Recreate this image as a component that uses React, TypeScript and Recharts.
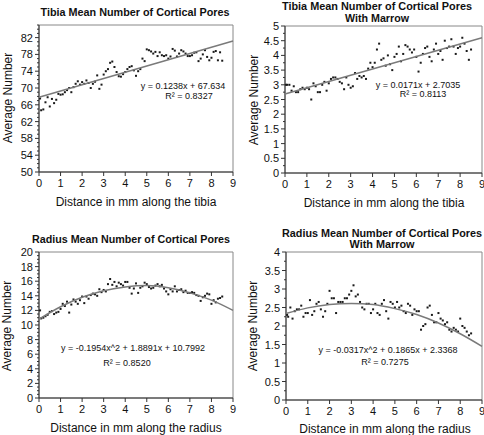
import React from 'react';
import { ScatterChart, Scatter, XAxis, YAxis, ReferenceArea } from 'recharts';

// distance along bone (mm) for each sample
const distances = [
  0.05, 0.1, 0.2, 0.3, 0.4, 0.5, 0.6, 0.7, 0.8, 0.9,
  1.0, 1.1, 1.2, 1.3, 1.4, 1.5, 1.6, 1.7, 1.8, 1.9,
  2.0, 2.1, 2.2, 2.3, 2.4, 2.5, 2.6, 2.7, 2.8, 2.9,
  3.0, 3.1, 3.2, 3.3, 3.4, 3.5, 3.6, 3.7, 3.8, 3.9,
  4.0, 4.1, 4.2, 4.3, 4.4, 4.5, 4.6, 4.7, 4.8, 4.9,
  5.0, 5.1, 5.2, 5.3, 5.4, 5.5, 5.6, 5.7, 5.8, 5.9,
  6.0, 6.1, 6.2, 6.3, 6.4, 6.5, 6.6, 6.7, 6.8, 6.9,
  7.0, 7.1, 7.2, 7.3, 7.4, 7.5, 7.6, 7.7, 7.8, 7.9,
  8.0, 8.1, 8.2, 8.3, 8.4, 8.5,
];

const tibiaPores = [
  67.5, 64.7, 64.9, 66.6, 67.8, 65.6, 67.4, 66.4, 67.2, 68.6,
  68.4, 68.5, 69.0, 69.5, 70.0, 69.0, 70.2, 71.0, 71.6, 70.8,
  71.4, 71.0, 71.8, 71.2, 70.0, 71.0, 71.5, 73.0, 69.8, 70.8,
  73.2, 74.0, 74.5, 76.0, 76.3, 75.0, 73.8, 72.8, 72.7, 73.3,
  73.8, 74.5, 75.0, 75.2, 74.2, 72.9, 74.0, 74.5, 77.0, 76.4,
  79.2, 79.0, 78.7, 78.2, 78.6, 77.6, 78.5, 77.8, 77.6, 77.8,
  77.0, 77.5, 79.3, 78.9, 77.5, 78.2, 79.0, 78.7, 78.2, 77.6,
  77.6, 77.8, 78.4, 78.5, 76.4, 77.0, 78.0, 79.0, 77.4, 76.6,
  77.2, 78.6, 78.8, 76.6, 78.5, 76.5,
];

const tibiaMarrow = [
  3.0, 3.0, 3.0, 2.8, 2.95, 2.75, 2.75, 2.85, 2.9, 2.85,
  2.9, 2.85, 2.5, 3.05, 2.95, 2.75, 2.75, 3.0, 3.1, 2.8,
  3.05, 3.2, 3.25, 3.25, 3.2, 3.1, 3.05, 2.85, 3.25, 3.0,
  2.9, 2.95, 3.4, 3.2, 3.3, 3.25, 3.3, 3.2, 3.55, 3.75,
  3.6, 3.75, 4.2, 4.4, 3.85, 3.9, 3.65, 4.0, 3.7, 3.5,
  3.95, 4.05, 4.3, 3.8, 4.05, 4.35, 4.3, 4.2, 4.1, 4.2,
  3.95, 3.45, 3.75, 4.05, 4.25, 4.3, 3.95, 3.8, 4.2, 4.4,
  4.05, 4.15, 3.85, 4.5, 4.25, 4.3, 4.55, 4.3, 4.05, 4.25,
  4.3, 4.6, 4.4, 4.15, 3.85, 4.2,
];

const radiusPores = [
  12.0, 10.9, 11.0, 11.2, 11.4, 11.8, 11.9, 11.5, 11.7, 11.8,
  12.2, 12.9, 12.6, 13.2, 11.7, 12.8, 13.5, 13.2, 12.9, 13.4,
  13.9, 13.0, 13.9, 13.6, 14.1, 14.3, 14.2, 14.0, 14.9, 14.5,
  14.8, 14.6, 15.6, 16.3, 15.5, 15.9, 15.3, 15.8, 15.6, 15.4,
  15.9, 15.9, 15.1, 14.3, 15.0, 15.7, 14.4, 15.1, 15.3, 15.8,
  15.6, 15.2, 15.0, 15.1, 15.4, 15.6, 15.3, 15.5, 15.0, 14.6,
  14.2, 14.9, 14.6, 15.3, 14.6, 14.8, 14.9, 14.5, 14.7, 14.4,
  14.4, 14.5, 14.4, 14.1, 14.0, 13.3, 13.8, 14.0, 14.3, 14.2,
  12.9, 13.4, 13.1, 13.6, 13.7, 13.9,
];

const radiusMarrow = [
  2.3, 2.25, 2.5, 2.2, 2.4, 2.45, 2.45, 2.55, 2.25, 2.35,
  2.35, 2.7, 2.3, 2.4, 2.6, 2.65, 2.45, 2.25, 2.4, 2.6,
  2.95, 2.75, 2.75, 2.35, 2.65, 2.65, 2.65, 2.75, 2.75, 2.85,
  2.95, 3.1, 2.8, 2.85, 2.65, 2.5, 2.45, 2.6, 2.6, 2.35,
  2.45, 2.6, 2.35, 2.3, 2.6, 2.7, 2.4, 2.2, 2.65, 2.6,
  2.5, 2.65, 2.5, 2.55, 2.4, 2.35, 2.6, 2.55, 2.3, 2.45,
  2.4, 2.4, 1.9, 2.0, 2.05, 2.5, 2.55, 2.3, 2.1, 2.1,
  2.35, 2.2, 2.15, 2.05, 2.1, 1.9, 1.85, 1.95, 1.9, 1.85,
  2.2, 2.0, 1.95, 1.85, 1.75, 1.8,
];

// trendlines
const lineX = [0, 9];
const curveX = [0, 1, 2, 3, 4, 5, 6, 7, 8, 9];
const tibiaTrend = [67.8, 81.2];
const tibiaMarrowTrend = [2.69, 4.6];
const radiusTrend = [10.8, 12.5, 13.8, 14.7, 15.2, 15.4, 15.1, 14.4, 13.4, 12.0];
const radiusMarrowTrend = [2.34, 2.49, 2.58, 2.61, 2.58, 2.47, 2.31, 2.08, 1.79, 1.45];

const xTicks = [0, 1, 2, 3, 4, 5, 6, 7, 8, 9];
const tibiaTicks = [50, 54, 58, 62, 66, 70, 74, 78, 82];
const tibiaMarrowTicks = [0, 0.5, 1, 1.5, 2, 2.5, 3, 3.5, 4, 4.5, 5];
const radiusTicks = [0, 2, 4, 6, 8, 10, 12, 14, 16, 18, 20];
const radiusMarrowTicks = [0, 0.5, 1, 1.5, 2, 2.5, 3, 3.5, 4];

type Pt = { x: number; y: number };
const pair = (xs: number[], ys: number[]): Pt[] => xs.map((x, i) => ({ x, y: ys[i] }));

const FONT = "'Liberation Sans', Arial, sans-serif";
const AXIS = '#333';

const minorTicks = (lo: number, hi: number, step: number) => {
  const out: number[] = [];
  for (let i = 0; lo + i * step <= hi + 1e-9; i++) out.push(+(lo + i * step).toFixed(4));
  return out;
};

interface PanelProps {
  left: number;
  top: number;
  width: number;
  height: number;
  plot: { l: number; r: number; t: number; b: number };
  points: Pt[];
  trend: Pt[];
  curved?: boolean;
  yDomain: [number, number];
  major: number[];
  minorStep: number;
  title: string[];
  titleWidths: number[];
  titlePos: [number, number];
  titleGap?: number;
  yLabelPos: [number, number];
  xLabel: string;
  xLabelPos: [number, number];
  eq: string;
  eqPos: [number, number];
  r2: string;
  r2Pos: [number, number];
}

const Panel: React.FC<PanelProps> = (p) => {
  const ticks = minorTicks(p.yDomain[0], p.yDomain[1], p.minorStep);
  const isMajor = (v: number) => p.major.some((m) => Math.abs(m - v) < 1e-6);
  const YTick = ({ x, y, payload }: any) => {
    const big = isMajor(payload.value);
    return (
      <g>
        <line x1={x - (big ? 4 : 2)} x2={x} y1={y} y2={y} stroke={AXIS} />
        {big && (
          <text x={x - 6} y={y} dy={4} textAnchor="end" fontSize={11} fontFamily={FONT} fill="#111">
            {payload.value}
          </text>
        )}
      </g>
    );
  };
  const XTick = ({ x, y, payload }: any) => (
    <g>
      <line x1={x} x2={x} y1={y} y2={y + 4} stroke={AXIS} />
      <text x={x} y={y + 15} textAnchor="middle" fontSize={11} fontFamily={FONT} fill="#111">
        {payload.value}
      </text>
    </g>
  );

  return (
    <div style={{ position: 'absolute', left: p.left, top: p.top, width: p.width, height: p.height }}>
      <ScatterChart
        width={p.width}
        height={p.height}
        margin={{ top: p.plot.t, right: p.width - p.plot.r, bottom: p.height - p.plot.b - 20, left: 0 }}
      >
        <ReferenceArea
          x1={0}
          x2={9}
          y1={p.yDomain[0]}
          y2={p.yDomain[1]}
          fill="#fff"
          fillOpacity={0}
          stroke="#888"
          strokeOpacity={1}
        />
        <XAxis
          type="number"
          dataKey="x"
          domain={[0, 9]}
          ticks={xTicks}
          interval={0}
          height={20}
          tickSize={0}
          tickMargin={0}
          tick={<XTick />}
          stroke={AXIS}
        />
        <YAxis
          type="number"
          dataKey="y"
          domain={p.yDomain}
          ticks={ticks}
          interval={0}
          width={p.plot.l}
          tickSize={0}
          tickMargin={0}
          tick={<YTick />}
          stroke={AXIS}
        />
        <Scatter
          data={p.points}
          isAnimationActive={false}
          shape={(s: any) => <rect x={s.cx - 1} y={s.cy - 1} width={2} height={2} fill="#1a1a1a" />}
        />
        <Scatter
          data={p.trend}
          isAnimationActive={false}
          line={{ stroke: '#7a7a7a', strokeWidth: 1.5 }}
          lineJointType={p.curved ? 'monotoneX' : 'linear'}
          shape={() => <g />}
        />
      </ScatterChart>
      <svg
        width={p.width}
        height={p.height}
        style={{ position: 'absolute', left: 0, top: 0, pointerEvents: 'none', overflow: 'visible' }}
      >
        {p.title.map((t, i) => (
          <text
            key={t}
            x={p.titlePos[0]}
            y={p.titlePos[1] + i * (p.titleGap ?? 12)}
            textAnchor="middle"
            dominantBaseline="central"
            fontSize={11.5}
            fontWeight="bold"
            fontFamily={FONT}
            textLength={p.titleWidths[i]}
            lengthAdjust="spacingAndGlyphs"
            fill="#111"
          >
            {t}
          </text>
        ))}
        <text
          transform={`translate(${p.yLabelPos[0]},${p.yLabelPos[1]}) rotate(-90)`}
          textAnchor="middle"
          dominantBaseline="central"
          fontSize={12}
          fontFamily={FONT}
          fill="#111"
        >
          Average Number
        </text>
        <text
          x={p.xLabelPos[0]}
          y={p.xLabelPos[1]}
          textAnchor="middle"
          dominantBaseline="central"
          fontSize={12}
          fontFamily={FONT}
          fill="#111"
        >
          {p.xLabel}
        </text>
        <text x={p.eqPos[0]} y={p.eqPos[1]} textAnchor="middle" dominantBaseline="central" fontSize={9} fontFamily={FONT} fill="#111">
          {p.eq}
        </text>
        <text x={p.r2Pos[0]} y={p.r2Pos[1]} textAnchor="middle" dominantBaseline="central" fontSize={9} fontFamily={FONT} fill="#111">
          {p.r2}
        </text>
      </svg>
    </div>
  );
};

const App: React.FC = () => {
  return (
    <div style={{ position: 'absolute', left: 0, top: 0, width: 484, height: 435, background: '#fff' }}>
      <Panel
        left={0}
        top={0}
        width={242}
        height={220}
        plot={{ l: 39, r: 233, t: 25, b: 172 }}
        points={pair(distances, tibiaPores)}
        trend={pair(lineX, tibiaTrend)}
        yDomain={[50, 85]}
        major={tibiaTicks}
        minorStep={1}
        title={['Tibia Mean Number of Cortical Pores']}
        titleWidths={[189]}
        titlePos={[135, 12]}
        yLabelPos={[8, 98]}
        xLabel="Distance in mm along the tibia"
        xLabelPos={[136, 202]}
        eq="y = 0.1238x + 67.634"
        eqPos={[183, 86]}
        r2="R² = 0.8327"
        r2Pos={[189, 96]}
      />
      <Panel
        left={242}
        top={0}
        width={242}
        height={220}
        plot={{ l: 43, r: 240, t: 26, b: 173 }}
        points={pair(distances, tibiaMarrow)}
        trend={pair(lineX, tibiaMarrowTrend)}
        yDomain={[0, 5]}
        major={tibiaMarrowTicks}
        minorStep={0.25}
        title={['Tibia Mean Number of Cortical Pores', 'With Marrow']}
        titleWidths={[190, 64]}
        titlePos={[135, 6]}
        titleGap={12}
        yLabelPos={[12, 100]}
        xLabel="Distance in mm along the tibia"
        xLabelPos={[142, 203]}
        eq="y = 0.0171x + 2.7035"
        eqPos={[176, 85]}
        r2="R² = 0.8113"
        r2Pos={[181, 94]}
      />
      <Panel
        left={0}
        top={220}
        width={242}
        height={215}
        plot={{ l: 39, r: 233, t: 32, b: 178 }}
        points={pair(distances, radiusPores)}
        trend={pair(curveX, radiusTrend)}
        curved
        yDomain={[0, 20]}
        major={radiusTicks}
        minorStep={0.5}
        title={['Radius Mean Number of Cortical Pores']}
        titleWidths={[198]}
        titlePos={[131, 19]}
        yLabelPos={[6.5, 106]}
        xLabel="Distance in mm along the radius"
        xLabelPos={[136, 208]}
        eq="y = -0.1954x^2 + 1.8891x + 10.7992"
        eqPos={[133, 128]}
        r2="R² = 0.8520"
        r2Pos={[127, 143]}
      />
      <Panel
        left={242}
        top={220}
        width={242}
        height={215}
        plot={{ l: 44, r: 240, t: 32, b: 180 }}
        points={pair(distances, radiusMarrow)}
        trend={pair(curveX, radiusMarrowTrend)}
        curved
        yDomain={[0, 4]}
        major={radiusMarrowTicks}
        minorStep={0.25}
        title={['Radius Mean Number of Cortical Pores', 'With Marrow']}
        titleWidths={[200, 65]}
        titlePos={[140, 12.5]}
        titleGap={11}
        yLabelPos={[11, 106]}
        xLabel="Distance in mm along the radius"
        xLabelPos={[143, 209]}
        eq="y = -0.0317x^2 + 0.1865x + 2.3368"
        eqPos={[146, 130]}
        r2="R² = 0.7275"
        r2Pos={[143, 142]}
      />
    </div>
  );
};

export default App;
